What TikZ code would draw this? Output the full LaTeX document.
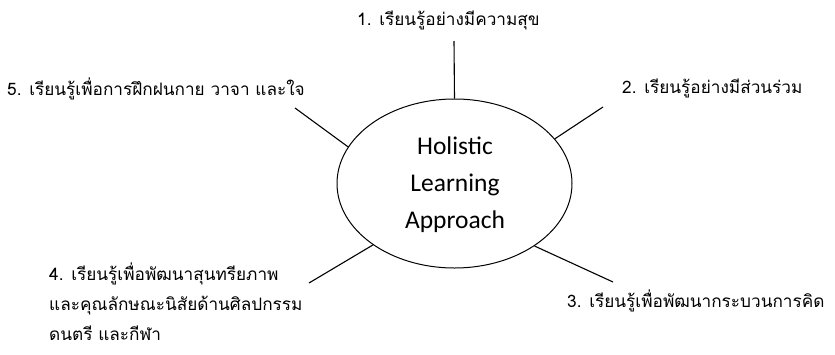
\documentclass[tikz,border=0pt]{standalone}
\usepackage{fontspec}
\setmainfont{Carlito}
\newfontfamily\thaifont[Script=Thai]{Loma}
\usetikzlibrary{shapes.geometric}
\tikzset{
  hub/.style={ellipse, draw, line width=1pt, minimum width=235pt, minimum height=169pt, inner sep=0pt},
  spoke/.style={line width=1.1pt},
  lbl/.style={anchor=base west, inner sep=0pt, font=\thaifont\fontsize{17.2}{30}\selectfont, align=left},
  hubtext/.style={align=center, font=\fontsize{25.5}{37}\selectfont}
}
\begin{document}
\begin{tikzpicture}[x=1pt,y=-1pt]
\useasboundingbox (0,0) rectangle (835,354);
\node[hub] (c) at (454.5,183.5) {};
\node[hubtext] (ct) at (455,185) {Holistic\\Learning\\Approach};
\coordinate (o1) at (454,41);
\coordinate (o2) at (603,107);
\coordinate (o3) at (613,282);
\coordinate (o4) at (309,283);
\coordinate (o5) at (295,108);
\draw[spoke] (o1) -- (c.90);
\draw[spoke] (o2) -- (c.24.6);
\draw[spoke] (o3) -- (c.-38.1);
\draw[spoke] (o4) -- (c.217);
\draw[spoke] (o5) -- (c.161.1);
\node[lbl] (l1) at (357,25) {1. เรียนรู้อย่างมีความสุข};
\node[lbl] (l2) at (622,93) {2. เรียนรู้อย่างมีส่วนร่วม};
\node[lbl] (l3) at (567,307) {3. เรียนรู้เพื่อพัฒนากระบวนการคิด};
\node[lbl] (l4) at (49,340) {4. เรียนรู้เพื่อพัฒนาสุนทรียภาพ\\และคุณลักษณะนิสัยด้านศิลปกรรม\\ดนตรี และกีฬา};
\node[lbl] (l5) at (7,95) {5. เรียนรู้เพื่อการฝึกฝนกาย วาจา และใจ};
\end{tikzpicture}
\end{document}
